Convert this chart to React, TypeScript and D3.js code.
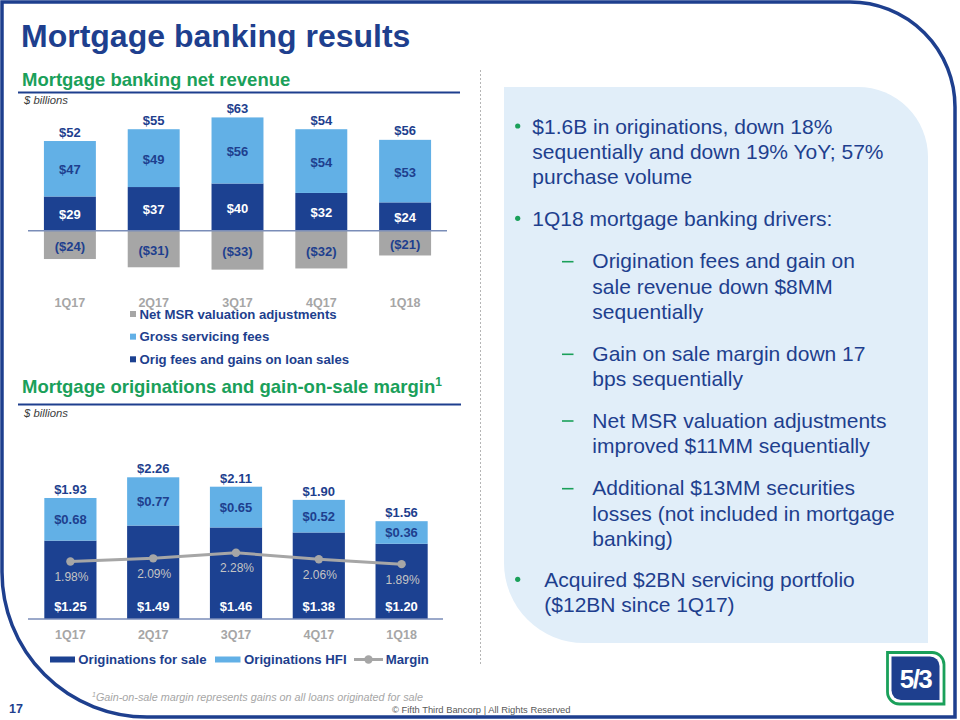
import React, { useEffect } from "react";
import * as d3 from "d3";

// ---------- data ----------
const quarters = ["1Q17", "2Q17", "3Q17", "4Q17", "1Q18"];
const origFees = [29, 37, 40, 32, 24];
const grossServicing = [47, 49, 56, 54, 53];
const netMsr = [-24, -31, -33, -32, -21];
const revenueTotals = [52, 55, 63, 54, 56];

const origForSale = [1.25, 1.49, 1.46, 1.38, 1.2];
const origHfi = [0.68, 0.77, 0.65, 0.52, 0.36];
const origTotals = [1.93, 2.26, 2.11, 1.9, 1.56];
const gainMargin = [1.98, 2.09, 2.28, 2.06, 1.89];

const topLegend = ["Net MSR valuation adjustments", "Gross servicing fees", "Orig fees and gains on loan sales"];
const bottomLegend = ["Originations for sale", "Originations HFI", "Margin"];

const panelParas = [
  { kind: "bullet", lines: ["$1.6B in originations, down 18%", "sequentially and down 19% YoY; 57%", "purchase volume"], y: 126 },
  { kind: "bullet", lines: ["1Q18 mortgage banking drivers:"], y: 218.3 },
  { kind: "dash", lines: ["Origination fees and gain on", "sale revenue down $8MM", "sequentially"], y: 260.7 },
  { kind: "dash", lines: ["Gain on sale margin down 17", "bps sequentially"], y: 353.3 },
  { kind: "dash", lines: ["Net MSR valuation adjustments", "improved $11MM sequentially"], y: 420 },
  { kind: "dash", lines: ["Additional $13MM securities", "losses (not included in mortgage", "banking)"], y: 487.7 },
  { kind: "bullet2", lines: ["Acquired $2BN servicing portfolio", "($12BN since 1Q17)"], y: 579.3 },
];

// ---------- styles ----------
const NAVY = "#1e3f8e";
const BAR_DARK = "#1c4191";
const BAR_LIGHT = "#62b0e6";
const BAR_GRAY = "#a6a6a6";
const GREEN = "#1aa05a";
const AXIS = "#7a8db8";
const FONT = "'Liberation Sans', Arial, Helvetica, sans-serif";

export default function App() {
  useEffect(() => {
    document.body.style.margin = "0";
  }, []);

  // top chart scales
  const xTop = d3.scaleBand<string>().domain(quarters).range([28, 447]).paddingInner(0.38).paddingOuter(0.19);
  const yTop = d3.scaleLinear().domain([-35, 100]).range([272, 112.7]);
  const bwT = xTop.bandwidth();

  // bottom chart scales
  const xBot = d3.scaleBand<string>().domain(quarters).range([29, 443]).paddingInner(0.37).paddingOuter(0.185);
  const yBot = d3.scaleLinear().domain([0, 2.5]).range([619, 462.25]);
  const yMargin = d3.scaleLinear().domain([0, 5.4]).range([619, 462.25]);
  const bwB = xBot.bandwidth();

  const marginLine = d3
    .line<number>()
    .x((_, i) => (xBot(quarters[i]) as number) + bwB / 2)
    .y((d) => yMargin(d));

  const fmt2 = (v: number) => "$" + v.toFixed(2);
  const fmtNeg = (v: number) => (v < 0 ? `($${Math.abs(v)})` : `$${v}`);

  const lineH = 25.3;

  return (
    <svg width={960} height={720} style={{ position: "absolute", left: 0, top: 0, background: "#fff" }} fontFamily={FONT}>
      <rect x={0} y={0} width={960} height={720} fill="#fff" />
      {/* frame */}
      <path
        d="M 2,2 H 850 A 105,105 0 0 1 955,107 V 717 H 147 A 145,145 0 0 1 2,572 Z"
        fill="none"
        stroke={NAVY}
        strokeWidth={3.5}
      />

      {/* title */}
      <text x={21} y={47} fontSize={32} fontWeight="bold" fill={NAVY}>
        Mortgage banking results
      </text>

      {/* section 1 header */}
      <text x={22} y={86} fontSize={18.5} fontWeight="bold" fill={GREEN}>
        Mortgage banking net revenue
      </text>
      <line x1={18} x2={460} y1={92.5} y2={92.5} stroke={NAVY} strokeWidth={2} />
      <text x={24} y={104} fontSize={11.3} fontStyle="italic" fill="#404040">
        $ billions
      </text>

      {/* top chart bars */}
      {quarters.map((q, i) => {
        const x0 = xTop(q) as number;
        const cx = x0 + bwT / 2;
        const yO = yTop(origFees[i]);
        const yG = yTop(origFees[i] + grossServicing[i]);
        const y0 = yTop(0);
        const yN = yTop(netMsr[i]);
        return (
          <g key={q}>
            <rect x={x0} y={yO} width={bwT} height={y0 - yO} fill={BAR_DARK} />
            <rect x={x0} y={yG} width={bwT} height={yO - yG} fill={BAR_LIGHT} />
            <rect x={x0} y={y0} width={bwT} height={yN - y0} fill={BAR_GRAY} />
            <text x={cx} y={(yO + y0) / 2 + 5.5} textAnchor="middle" fontSize={13} fontWeight="bold" fill="#fff">
              {fmtNeg(origFees[i])}
            </text>
            <text x={cx} y={(yG + yO) / 2 + 5.5} textAnchor="middle" fontSize={13} fontWeight="bold" fill={NAVY}>
              {fmtNeg(grossServicing[i])}
            </text>
            <text x={cx} y={(y0 + yN) / 2 + 6} textAnchor="middle" fontSize={13} fontWeight="bold" fill={NAVY}>
              {fmtNeg(netMsr[i])}
            </text>
            <text x={cx} y={yG - 4.5} textAnchor="middle" fontSize={13} fontWeight="bold" fill={NAVY}>
              {"$" + revenueTotals[i]}
            </text>
            <text x={cx} y={306.5} textAnchor="middle" fontSize={12.5} fontWeight="bold" fill="#a6a6a6">
              {q}
            </text>
          </g>
        );
      })}
      <line x1={28} x2={447} y1={yTop(0)} y2={yTop(0)} stroke={AXIS} strokeWidth={1.5} />

      {/* top legend */}
      {topLegend.map((t, i) => {
        const cy = 314 + i * 22.65;
        const col = [BAR_GRAY, BAR_LIGHT, BAR_DARK][i];
        return (
          <g key={t}>
            <rect x={130} y={cy - 3} width={6} height={6} fill={col} />
            <text x={139.5} y={cy + 4.7} fontSize={13.2} fontWeight="bold" fill={NAVY}>
              {t}
            </text>
          </g>
        );
      })}

      {/* section 2 header */}
      <text x={22} y={392.5} fontSize={18.5} fontWeight="bold" fill={GREEN}>
        Mortgage originations and gain-on-sale margin
        <tspan fontSize={12} dy={-7}>
          1
        </tspan>
      </text>
      <line x1={18} x2={461} y1={404.5} y2={404.5} stroke={NAVY} strokeWidth={2} />
      <text x={24} y={417} fontSize={11.3} fontStyle="italic" fill="#404040">
        $ billions
      </text>

      {/* bottom chart bars */}
      {quarters.map((q, i) => {
        const x0 = xBot(q) as number;
        const cx = x0 + bwB / 2;
        const yS = yBot(origForSale[i]);
        const yH = yBot(origForSale[i] + origHfi[i]);
        const y0 = yBot(0);
        return (
          <g key={q}>
            <rect x={x0} y={yS} width={bwB} height={y0 - yS} fill={BAR_DARK} />
            <rect x={x0} y={yH} width={bwB} height={yS - yH} fill={BAR_LIGHT} />
            <text x={cx} y={y0 - 8.5} textAnchor="middle" fontSize={13} fontWeight="bold" fill="#fff">
              {fmt2(origForSale[i])}
            </text>
            <text x={cx} y={(yH + yS) / 2 + 5} textAnchor="middle" fontSize={13} fontWeight="bold" fill={NAVY}>
              {fmt2(origHfi[i])}
            </text>
            <text x={cx} y={yH - 4} textAnchor="middle" fontSize={13} fontWeight="bold" fill={NAVY}>
              {fmt2(origTotals[i])}
            </text>
            <text x={cx} y={638.5} textAnchor="middle" fontSize={12.5} fontWeight="bold" fill="#a6a6a6">
              {q}
            </text>
          </g>
        );
      })}
      <line x1={28} x2={443} y1={yBot(0)} y2={yBot(0)} stroke={AXIS} strokeWidth={1.5} />
      <path d={marginLine(gainMargin) || ""} fill="none" stroke={BAR_GRAY} strokeWidth={3} />
      {gainMargin.map((m, i) => {
        const cx = (xBot(quarters[i]) as number) + bwB / 2;
        const cy = yMargin(m);
        return (
          <g key={"m" + i}>
            <circle cx={cx} cy={cy} r={4.2} fill={BAR_GRAY} />
            <text x={cx + 1} y={cy + 19.5} textAnchor="middle" fontSize={12} fill="#c4c4c4">
              {m.toFixed(2) + "%"}
            </text>
          </g>
        );
      })}

      {/* bottom legend */}
      <rect x={50} y={656.5} width={25} height={6} fill={BAR_DARK} />
      <text x={78.3} y={664} fontSize={13.2} fontWeight="bold" fill={NAVY}>
        {bottomLegend[0]}
      </text>
      <rect x={215} y={656.5} width={25.5} height={6} fill={BAR_LIGHT} />
      <text x={244} y={664} fontSize={13.2} fontWeight="bold" fill={NAVY}>
        {bottomLegend[1]}
      </text>
      <line x1={354} x2={383} y1={659.5} y2={659.5} stroke={BAR_GRAY} strokeWidth={3} />
      <circle cx={368.5} cy={659.5} r={4.2} fill={BAR_GRAY} />
      <text x={385.7} y={664} fontSize={13.2} fontWeight="bold" fill={NAVY}>
        {bottomLegend[2]}
      </text>

      {/* separator */}
      <line x1={480.5} x2={480.5} y1={70} y2={665} stroke="#b5b5b5" strokeWidth={1} strokeDasharray="2,2" />

      {/* right panel */}
      <path d="M 504,87 H 858 A 70,70 0 0 1 928,157 V 643 H 584 A 80,80 0 0 1 504,563 Z" fill="#e1eef9" />
      {panelParas.map((p, pi) => {
        const tx = p.kind === "dash" ? 592.3 : p.kind === "bullet2" ? 544.3 : 532.3;
        return (
          <g key={"p" + pi}>
            {p.kind === "dash" ? (
              <line x1={562} x2={573.5} y1={p.y + 1} y2={p.y + 1} stroke={GREEN} strokeWidth={1.6} />
            ) : (
              <circle cx={517.7} cy={p.y} r={2.6} fill={GREEN} />
            )}
            {p.lines.map((l, li) => (
              <text key={li} x={tx} y={p.y + 7.5 + li * lineH} fontSize={21} fill={NAVY}>
                {l}
              </text>
            ))}
          </g>
        );
      })}

      {/* logo */}
      <path
        d="M 887.5,652.5 H 932 A 12,12 0 0 1 944,664.5 V 704 H 899.5 A 12,12 0 0 1 887.5,692 Z"
        fill="#fff"
        stroke={GREEN}
        strokeWidth={2.8}
      />
      <path d="M 891.5,656.5 H 930 A 9.5,9.5 0 0 1 939.5,666 V 700 H 901 A 9.5,9.5 0 0 1 891.5,690.5 Z" fill={NAVY} />
      <text x={915.5} y={688} textAnchor="middle" fontSize={26} fontWeight="bold" fill="#fff" letterSpacing={-1.5}>
        5/3
      </text>

      {/* footer */}
      <text x={9} y={713} fontSize={12.5} fontWeight="bold" fill={NAVY}>
        17
      </text>
      <text x={92} y={701} fontSize={10.8} fontStyle="italic" fill="#a6a6a6">
        <tspan fontSize={7} dy={-4}>
          1
        </tspan>
        <tspan dy={4}>Gain-on-sale margin represents gains on all loans originated for sale</tspan>
      </text>
      <text x={392} y={713} fontSize={9.4} fill="#595959">
        © Fifth Third Bancorp | All Rights Reserved
      </text>
    </svg>
  );
}
